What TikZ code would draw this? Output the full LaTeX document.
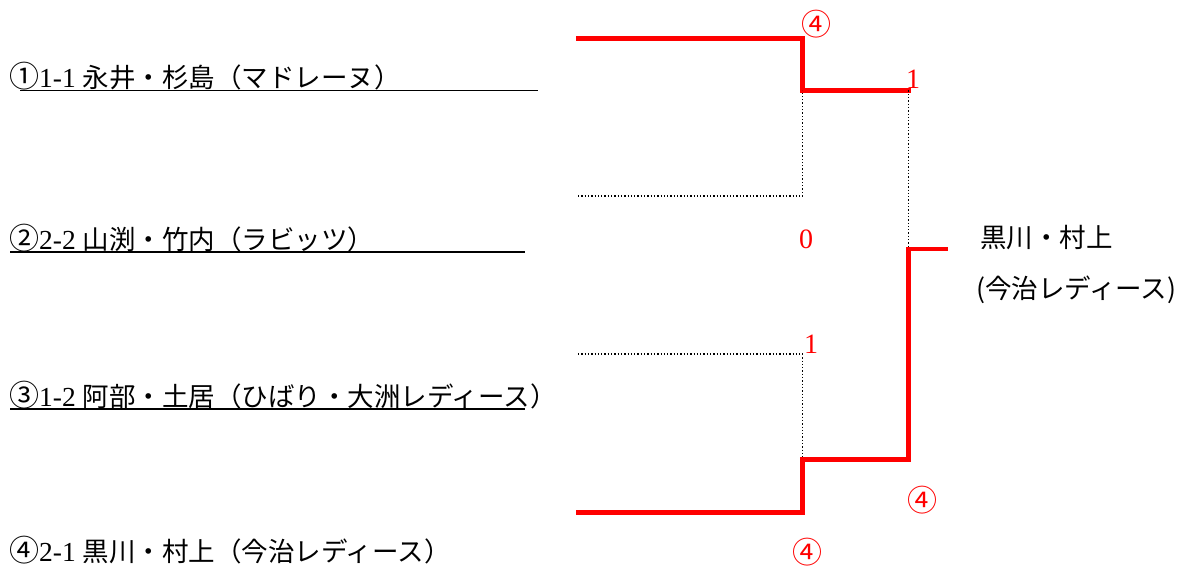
\documentclass[tikz,border=0pt]{standalone}
\usepackage{fontspec}
\setmainfont{Liberation Serif}
\newfontfamily\jpfont{Noto Sans CJK JP}
\newcommand{\circnum}[1]{{\fontsize{30}{30}\selectfont\jpfont #1}}
\usetikzlibrary{positioning}

\begin{document}
\begin{tikzpicture}[
        x=1pt, y=-1pt,
        entry/.style={anchor=base west, inner sep=0pt, font=\fontsize{27.5}{30}\selectfont},
        score/.style={anchor=base west, inner sep=0pt, text=red, font=\fontsize{28}{30}\selectfont},
        winner/.style={anchor=base west, inner sep=0pt, font=\fontsize{26.5}{30}\selectfont\jpfont},
        underline/.style={draw, line width=1.6pt},
        win/.style={draw=red, line width=4.5pt, line cap=rect},
        lose/.style={draw, dotted, line width=1.3pt}
    ]
    \useasboundingbox (0,0) rectangle (1183,567);

    % Entries
    \node[entry] (p1) at (9,88) {\circnum{①}1-1 {\jpfont\fontsize{26.5}{30}\selectfont 永井・杉島（マドレーヌ）}};
    \node[entry] (p2) at (9,249) {\circnum{②}2-2 {\jpfont\fontsize{26.5}{30}\selectfont 山渕・竹内（ラビッツ）}};
    \node[entry] (p3) at (9,406) {\circnum{③}1-2 {\jpfont\fontsize{26.5}{30}\selectfont 阿部・土居（ひばり・大洲レディース）}};
    \node[entry] (p4) at (9,561) {\circnum{④}2-1 {\jpfont\fontsize{26.5}{30}\selectfont 黒川・村上（今治レディース）}};

    % Underlines
    \coordinate (u1a) at (20,90.5);  \coordinate (u1b) at (538,90.5);
    \coordinate (u2a) at (10,252);   \coordinate (u2b) at (525,252);
    \coordinate (u3a) at (10,409);   \coordinate (u3b) at (525,409);
    \draw[underline] (u1a) -- (u1b);
    \draw[underline] (u2a) -- (u2b);
    \draw[underline] (u3a) -- (u3b);

    % Bracket points
    \coordinate (t1) at (578,38.5);
    \coordinate (t2) at (578,196);
    \coordinate (t3) at (578,354);
    \coordinate (t4) at (578,512.5);
    \coordinate (m1) at (802.5,38.5);
    \coordinate (m2) at (802.5,196);
    \coordinate (m3) at (802.5,354);
    \coordinate (m4) at (802.5,512.5);
    \coordinate (s1) at (802.5,90.5);
    \coordinate (s2) at (802.5,459.5);
    \coordinate (r1) at (908.5,90.5);
    \coordinate (r2) at (908.5,459.5);
    \coordinate (f) at (908.5,249);
    \coordinate (fe) at (946,249);

    % Semi-finals
    \draw[win] (t1) -- (m1) -- (s1) -- (r1);
    \draw[lose] (t2) -- (m2) -- (s1);
    \draw[lose] (t3) -- (m3) -- (s2);
    \draw[win] (t4) -- (m4) -- (s2) -- (r2);

    % Final
    \draw[lose] (r1) -- (f);
    \draw[win] (r2) -- (f) -- (fe);

    % Scores
    \node[score] (sc1) at (801,36) {\circnum{④}};
    \node[score] (sc2) at (906,89) {1};
    \node[score] (sc3) at (799,248) {0};
    \node[score] (sc4) at (804,353) {1};
    \node[score] (sc5) at (907,511) {\circnum{④}};
    \node[score] (sc6) at (792,563) {\circnum{④}};

    % Winner
    \node[winner] (w1) at (980,247) {黒川・村上};
    \node[winner] (w2) at (976,298) {(今治レディース)};

\end{tikzpicture}
\end{document}
